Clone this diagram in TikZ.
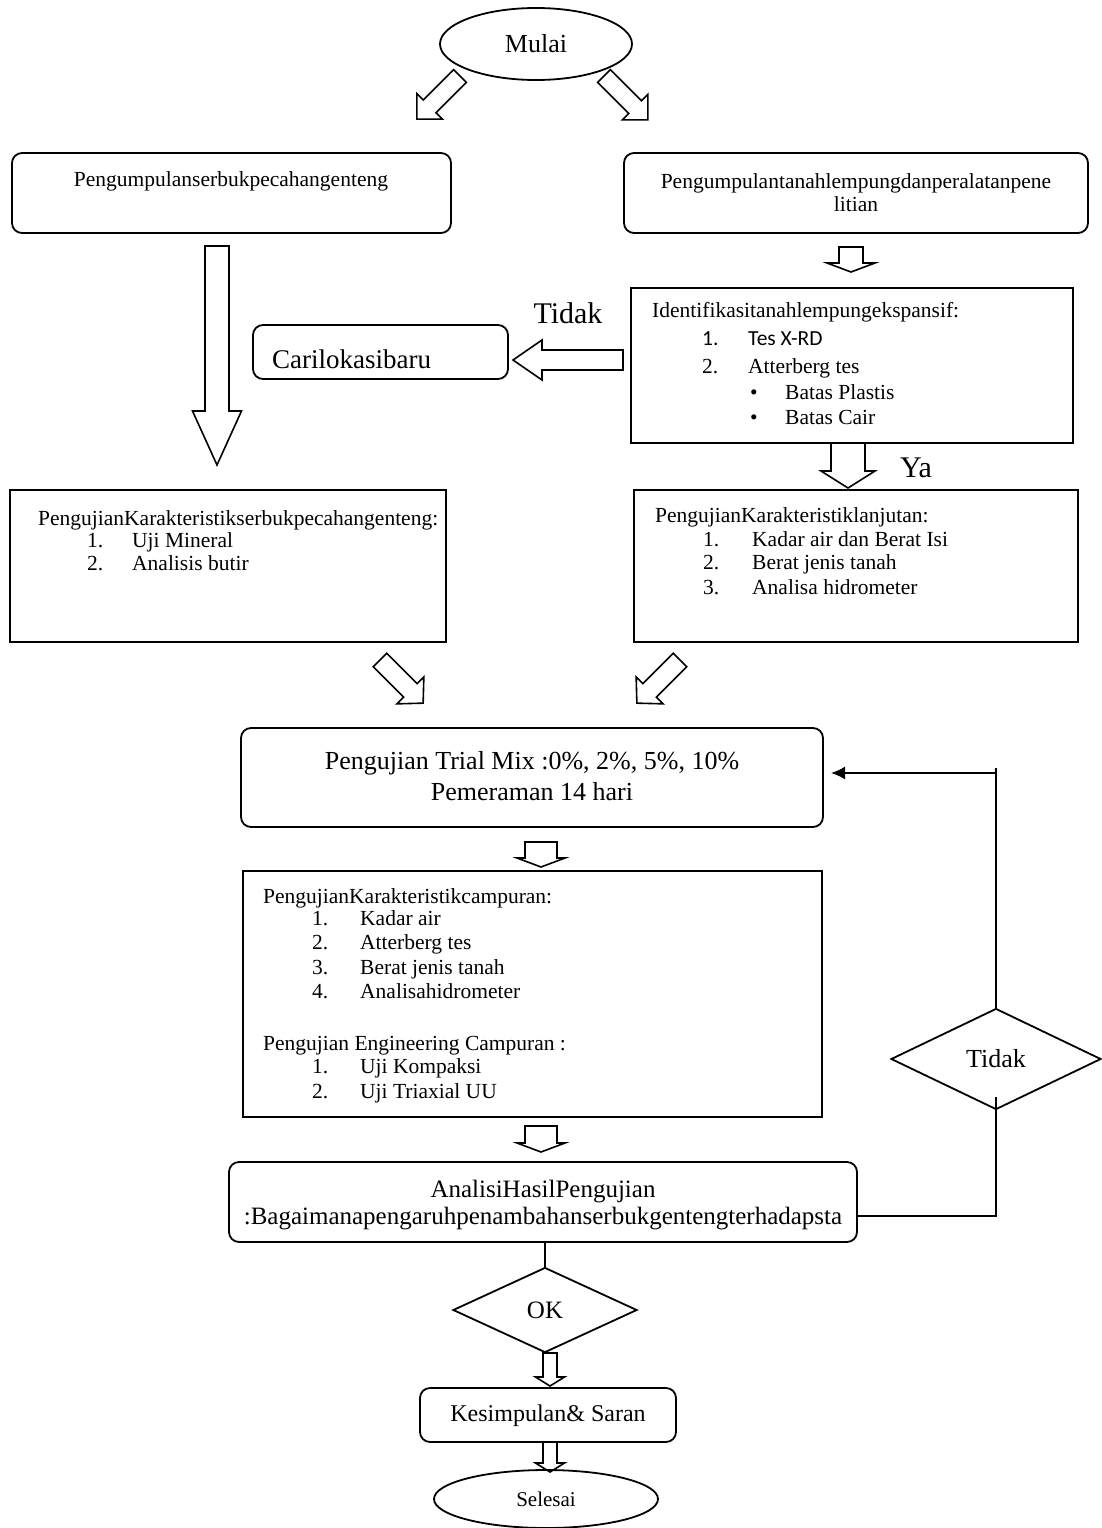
\documentclass[tikz,border=0pt]{standalone}
\usepackage{fontspec}
\setmainfont{Liberation Serif}
\newfontfamily\calibri{Carlito}
\usetikzlibrary{shapes.geometric,fit,arrows.meta}
\tikzset{
  rbox/.style={draw, line width=1.8pt, rounded corners=10pt, inner sep=0pt},
  sbox/.style={draw, line width=1.8pt, inner sep=0pt},
  blk/.style={draw, line width=1.6pt, line join=miter, fill=white},
  ln/.style={draw, line width=1.8pt},
  tx/.style={inner sep=0pt, font=\fontsize{21.5}{24}\selectfont},
  big/.style={inner sep=0pt, font=\fontsize{26}{30}\selectfont},
  huge/.style={inner sep=0pt, font=\fontsize{30}{34}\selectfont},
  mid/.style={inner sep=0pt, font=\fontsize{25}{28}\selectfont},
}
% block arrow: start point, angle, length, shaft half width, head half width, head length
\newcommand\barrow[6]{%
  \begin{scope}[shift={(#1)},rotate=#2]
    \draw[blk] (0,{-#4}) -- ({#3-#6},{-#4}) -- ({#3-#6},{-#5}) -- (#3,0) -- ({#3-#6},{#5}) -- ({#3-#6},{#4}) -- (0,{#4}) -- cycle;
  \end{scope}}
\begin{document}
\begin{tikzpicture}[x=1pt,y=-1pt]
\useasboundingbox (0,0) rectangle (1101,1528);

% start
\node[draw, line width=1.8pt, ellipse, minimum width=192pt, minimum height=72pt, inner sep=0pt, font=\fontsize{26}{30}\selectfont] (mulai) at (536,44) {Mulai};
\barrow{460,76}{-135}{61}{9}{18}{18}
\barrow{604,76}{-45}{62}{9}{18}{18}

% first row
\node[rbox, fit={(12,153)(451,233)}] (b1) {};
\node[tx, anchor=base] (b1t) at (231,186) {Pengumpulanserbukpecahangenteng};
\node[rbox, fit={(624,153)(1088,233)}] (b2) {};
\node[tx, anchor=base] (b2t1) at (856,188) {Pengumpulantanahlempungdanperalatanpene};
\node[tx, anchor=base] (b2t2) at (856,211) {litian};

\barrow{851,247}{-90}{25}{12}{24}{9}
\barrow{217,246}{-90}{219}{12}{24.5}{54}

% identification
\node[sbox, fit={(631,288)(1073,443)}] (idf) {};
\node[tx, anchor=base west] (idf0) at (652,317) {Identifikasitanahlempungekspansif:};
\node[tx, anchor=base west] (idf1n) at (702,345) {\calibri 1.};
\node[tx, anchor=base west] (idf1) at (748,345) {\calibri Tes X-RD};
\node[tx, anchor=base west] (idf2n) at (702,373) {2.};
\node[tx, anchor=base west] (idf2) at (748,373) {Atterberg tes};
\node[tx, anchor=base west] (idf3b) at (750,399) {\textbullet};
\node[tx, anchor=base west] (idf3) at (785,399) {Batas Plastis};
\node[tx, anchor=base west] (idf4b) at (750,424) {\textbullet};
\node[tx, anchor=base west] (idf4) at (785,424) {Batas Cair};

% cari lokasi baru
\node[rbox, fit={(253,325)(508,379)}] (cari) {};
\node[inner sep=0pt, font=\fontsize{27}{30}\selectfont, anchor=base west] (carit) at (272,368) {Carilokasibaru};
\barrow{623,360}{180}{110}{10}{20}{29}
\node[huge, anchor=base] (tidak1) at (568,323) {Tidak};

% Ya
\barrow{848,443}{-90}{45}{17}{27}{17}
\node[huge, anchor=base] (ya) at (916,477) {Ya};

% second row
\node[sbox, fit={(10,490)(446,642)}] (k1) {};
\node[tx, anchor=base west] (k1t) at (38,525) {PengujianKarakteristikserbukpecahangenteng:};
\node[tx, anchor=base west] (k1n1) at (87,547) {1.};
\node[tx, anchor=base west] (k1i1) at (132,547) {Uji Mineral};
\node[tx, anchor=base west] (k1n2) at (87,570) {2.};
\node[tx, anchor=base west] (k1i2) at (132,570) {Analisis butir};

\node[sbox, fit={(634,490)(1078,642)}] (k2) {};
\node[tx, anchor=base west] (k2t) at (655,522) {PengujianKarakteristiklanjutan:};
\node[tx, anchor=base west] (k2n1) at (703,546) {1.};
\node[tx, anchor=base west] (k2i1) at (752,546) {Kadar air dan Berat Isi};
\node[tx, anchor=base west] (k2n2) at (703,569) {2.};
\node[tx, anchor=base west] (k2i2) at (752,569) {Berat jenis tanah};
\node[tx, anchor=base west] (k2n3) at (703,594) {3.};
\node[tx, anchor=base west] (k2i3) at (752,594) {Analisa hidrometer};

\barrow{380,660}{-45}{61}{9.5}{19}{18}
\barrow{680,660}{-135}{61}{9.5}{19}{18}

% trial mix
\node[rbox, fit={(241,728)(823,827)}] (trial) {};
\node[big, anchor=base] (trial1) at (532,769) {Pengujian Trial Mix :0\%, 2\%, 5\%, 10\%};
\node[big, anchor=base] (trial2) at (532,800) {Pemeraman 14 hari};

\barrow{541,842}{-90}{25}{16}{24}{9}

% campuran
\node[sbox, fit={(243,871)(822,1117)}] (camp) {};
\node[tx, anchor=base west] (c0) at (263,903) {PengujianKarakteristikcampuran:};
\node[tx, anchor=base west] (c1n) at (312,925) {1.};
\node[tx, anchor=base west] (c1) at (360,925) {Kadar air};
\node[tx, anchor=base west] (c2n) at (312,949) {2.};
\node[tx, anchor=base west] (c2) at (360,949) {Atterberg tes};
\node[tx, anchor=base west] (c3n) at (312,974) {3.};
\node[tx, anchor=base west] (c3) at (360,974) {Berat jenis tanah};
\node[tx, anchor=base west] (c4n) at (312,998) {4.};
\node[tx, anchor=base west] (c4) at (360,998) {Analisahidrometer};
\node[tx, anchor=base west] (e0) at (263,1050) {Pengujian Engineering Campuran :};
\node[tx, anchor=base west] (e1n) at (312,1073) {1.};
\node[tx, anchor=base west] (e1) at (360,1073) {Uji Kompaksi};
\node[tx, anchor=base west] (e2n) at (312,1098) {2.};
\node[tx, anchor=base west] (e2) at (360,1098) {Uji Triaxial UU};

\barrow{541,1126}{-90}{26}{16}{24}{9}

% analisis
\node[rbox, fit={(229,1162)(857,1242)}] (ana) {};
\node[mid, anchor=base] (ana1) at (543,1197) {AnalisiHasilPengujian};
\node[mid, anchor=base] (ana2) at (543,1224) {:Bagaimanapengaruhpenambahanserbukgentengterhadapsta};

% decision OK
\node[draw, line width=1.8pt, diamond, minimum width=184pt, minimum height=85pt, inner sep=0pt, font=\fontsize{25}{28}\selectfont] (ok) at (545,1310) {OK};
\draw[ln] (ok.north |- ana.south) -- (ok.north);

% decision Tidak with feedback
\node[draw, line width=1.8pt, diamond, minimum width=210pt, minimum height=101pt, inner sep=0pt, font=\fontsize{26}{30}\selectfont] (tdk) at (996,1059) {Tidak};
\coordinate (fbtop) at (996,768);
\coordinate (fbcorner) at (996,773);
\coordinate (fbtip) at (831,773);
\coordinate (fbin) at (996,1097);
\coordinate (fbbot) at (996,1216);
\draw[ln] (tdk.north) -- (fbtop);
\draw[ln, -{Latex[length=14pt,width=13pt]}] (fbcorner) -- (fbtip);
\draw[ln] (ana.east |- fbbot) -- (fbbot) -- (fbin);

\barrow{550,1353}{-90}{33}{7}{14.5}{9}

% conclusion
\node[rbox, fit={(420,1388)(676,1442)}] (kes) {};
\node[inner sep=0pt, font=\fontsize{24}{28}\selectfont] (kest) at (548,1416) {Kesimpulan\& Saran};

\barrow{550,1442}{-90}{30}{7}{14.5}{9}

\node[draw, line width=1.8pt, ellipse, minimum width=224pt, minimum height=58pt, inner sep=0pt, font=\fontsize{21}{24}\selectfont] (selesai) at (546,1499) {Selesai};
\end{tikzpicture}
\end{document}
